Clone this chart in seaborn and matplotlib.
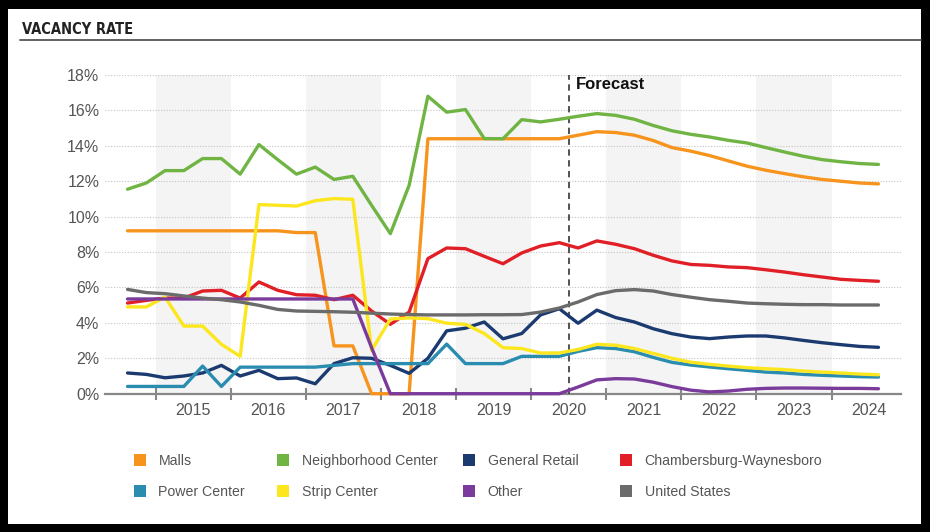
import matplotlib
matplotlib.use("Agg")
import matplotlib.pyplot as plt
from matplotlib.lines import Line2D
from matplotlib.patches import Rectangle
import numpy as np
import pandas as pd
import seaborn as sns

# Quarterly periods, 2014 Q3 through 2024 Q3
periods = [f"{y} Q{q}" for y in range(2014, 2025) for q in range(1, 5)][2:43]
forecast_start = 2020.5
years = list(range(2015, 2025))
year_labels = [str(y) for y in years]
y_ticks = [0, 2, 4, 6, 8, 10, 12, 14, 16, 18]
y_tick_labels = [f"{v}%" for v in y_ticks]

series_names = ["Malls", "Neighborhood Center", "General Retail", "Chambersburg-Waynesboro",
                "Power Center", "Strip Center", "Other", "United States"]

malls = [9.2, 9.2, 9.2, 9.2, 9.2, 9.2, 9.2, 9.2, 9.2, 9.1, 9.1, 2.7, 2.7, 0.0, 0.0, 0.0,
         14.4, 14.4, 14.4, 14.4, 14.4, 14.4, 14.4, 14.4, 14.6, 14.8, 14.75, 14.6, 14.3, 13.9,
         13.7, 13.45, 13.15, 12.85, 12.62, 12.43, 12.25, 12.1, 12.0, 11.9, 11.85]
neighborhood = [11.55, 11.9, 12.6, 12.6, 13.28, 13.28, 12.4, 14.07, 13.22, 12.4, 12.8, 12.1,
                12.28, 10.64, 9.04, 11.77, 16.8, 15.9, 16.05, 14.41, 14.4, 15.48, 15.35, 15.5,
                15.67, 15.82, 15.72, 15.5, 15.15, 14.85, 14.65, 14.5, 14.31, 14.16, 13.9, 13.65,
                13.41, 13.22, 13.1, 13.0, 12.95]
general_retail = [1.17, 1.09, 0.9, 1.0, 1.17, 1.6, 1.0, 1.32, 0.85, 0.89, 0.56, 1.7, 2.03, 2.0,
                  1.6, 1.15, 2.0, 3.55, 3.7, 4.05, 3.1, 3.4, 4.45, 4.8, 3.98, 4.72, 4.3, 4.05,
                  3.67, 3.39, 3.2, 3.11, 3.2, 3.26, 3.26, 3.15, 3.01, 2.88, 2.77, 2.67, 2.62]
chambersburg = [5.12, 5.27, 5.4, 5.4, 5.8, 5.84, 5.4, 6.31, 5.84, 5.59, 5.56, 5.31, 5.56, 4.67,
                3.92, 4.61, 7.63, 8.23, 8.19, 7.76, 7.34, 7.95, 8.34, 8.53, 8.23, 8.63, 8.44,
                8.19, 7.82, 7.5, 7.3, 7.25, 7.16, 7.12, 7.0, 6.87, 6.72, 6.59, 6.46, 6.4, 6.35]
power_center = [0.41, 0.41, 0.41, 0.41, 1.56, 0.41, 1.5, 1.5, 1.5, 1.5, 1.5, 1.6, 1.7, 1.7, 1.7,
                1.7, 1.7, 2.8, 1.7, 1.7, 1.7, 2.11, 2.11, 2.11, 2.39, 2.6, 2.55, 2.37, 2.05,
                1.77, 1.62, 1.51, 1.41, 1.32, 1.22, 1.17, 1.09, 1.04, 1.0, 0.96, 0.94]
strip_center = [4.9, 4.9, 5.46, 3.82, 3.82, 2.79, 2.11, 10.68, 10.64, 10.6, 10.9, 11.02, 10.98,
                2.45, 4.22, 4.28, 4.24, 3.98, 3.92, 3.4, 2.6, 2.55, 2.3, 2.3, 2.5, 2.79, 2.74,
                2.55, 2.28, 2.0, 1.78, 1.66, 1.56, 1.47, 1.41, 1.36, 1.28, 1.22, 1.17, 1.11, 1.07]
other = [5.35, 5.35, 5.35, 5.35, 5.35, 5.35, 5.35, 5.35, 5.35, 5.35, 5.35, 5.35, 5.35, 2.6,
         0.0, 0.0, 0.0, 0.0, 0.0, 0.0, 0.0, 0.0, 0.0, 0.0, 0.38, 0.78, 0.85, 0.83, 0.65, 0.4,
         0.2, 0.1, 0.15, 0.25, 0.3, 0.32, 0.32, 0.31, 0.3, 0.3, 0.28]
united_states = [5.89, 5.71, 5.65, 5.52, 5.4, 5.31, 5.18, 4.99, 4.76, 4.67, 4.65, 4.63, 4.6,
                 4.55, 4.5, 4.47, 4.45, 4.45, 4.45, 4.46, 4.46, 4.47, 4.61, 4.84, 5.18, 5.6,
                 5.82, 5.88, 5.8, 5.6, 5.45, 5.31, 5.22, 5.12, 5.08, 5.05, 5.03, 5.03, 5.01,
                 5.01, 5.01]

series_values = [malls, neighborhood, general_retail, chambersburg,
                 power_center, strip_center, other, united_states]
colors = ["#F7941D", "#70B444", "#1B3A6F", "#E11F27",
          "#2A8DB0", "#FCE61E", "#7A3B9B", "#6B6B6B"]

# Place each quarter at its mid-point on a fractional-year axis
def period_position(label):
    y, q = label.split(" Q")
    return int(y) + (int(q) - 0.5) / 4

xpos = [period_position(p) for p in periods]
df = pd.concat(
    [pd.DataFrame({"period": periods, "x": xpos, "series": n, "value": v})
     for n, v in zip(series_names, series_values)],
    ignore_index=True)

sns.set_theme(style="white")
plt.rcParams["font.family"] = ["Liberation Sans", "DejaVu Sans"]

W, H = 930, 532
fig = plt.figure(figsize=(W / 100, H / 100), dpi=100, facecolor="black")
# white panel inside the dark frame
fig.patches.append(Rectangle((8 / W, 8 / H), (921 - 8) / W, (523 - 8) / H,
                             transform=fig.transFigure, facecolor="white",
                             edgecolor="none", zorder=-10))

fig.text(22 / W, 1 - 29 / H, "VACANCY RATE", ha="left", va="center",
         fontsize=10.5, fontweight="bold", fontstretch="condensed", color="#222222",
         family=["DejaVu Sans"])
fig.add_artist(Line2D([20 / W, 921 / W], [1 - 40 / H, 1 - 40 / H],
                      transform=fig.transFigure, color="#555555", lw=1.3))

ax = fig.add_axes([105 / W, 1 - 393.7 / H, 796 / W, (393.7 - 75) / H])
ax.set_facecolor("white")
ax.set_zorder(1)

# alternating year bands
for y in years[::2]:
    ax.axvspan(y, y + 1, color="#F4F4F4", lw=0, zorder=0)

sns.lineplot(data=df, x="x", y="value", hue="series", hue_order=series_names,
             palette=colors, linewidth=2.4, legend=False, sort=False, ax=ax)
for line in ax.lines:
    line.set_clip_on(False)
    line.set_zorder(3)
    line.set_solid_joinstyle("round")

ax.set_xlim(2014.325, 2024.925)
ax.set_ylim(0, 18)
ax.set_xlabel("")
ax.set_ylabel("")

ax.set_yticks(y_ticks, labels=y_tick_labels)
ax.yaxis.grid(True, ls=(0, (1, 1.5)), color="#C4C4C4", lw=0.8)
ax.xaxis.grid(False)
ax.set_axisbelow(True)

ax.set_xticks([y + 0.5 for y in years], labels=year_labels)
ax.set_xticks(np.arange(2014.5, 2024.8, 0.25), minor=True)
ax.tick_params(axis="x", which="major", length=0, pad=7, labelsize=11.5, labelcolor="#555555")
ax.tick_params(axis="x", which="minor", direction="in", length=4, width=1.2, color="#888888")
ax.tick_params(axis="y", length=0, pad=4, labelsize=11.5, labelcolor="#555555")

sec = ax.secondary_xaxis("bottom")
sec.set_xticks(years)
sec.tick_params(direction="inout", length=9, width=1.5, color="#888888", labelbottom=False)
sec.spines["bottom"].set_visible(False)

for s in ["left", "right", "top"]:
    ax.spines[s].set_visible(False)
ax.spines["bottom"].set_color("#888888")
ax.spines["bottom"].set_linewidth(1.6)

ax.axvline(forecast_start, color="#444444", ls=(0, (3.5, 2.5)), lw=1.3, zorder=2.6)
ax.text(forecast_start + 0.09, 17.45, "Forecast", fontsize=12, fontweight="bold",
        color="#111111", ha="left", va="center")

# legend: four columns of two entries
handles = {n: Line2D([], [], marker="s", ls="none", markersize=8, color=c, markeredgewidth=0)
           for n, c in zip(series_names, colors)}
columns = [["Malls", "Power Center"], ["Neighborhood Center", "Strip Center"],
           ["General Retail", "Other"], ["Chambersburg-Waynesboro", "United States"]]
col_centers = [140, 283, 469, 626]
for names, cx in zip(columns, col_centers):
    leg = fig.legend([handles[n] for n in names], names, loc="center left",
                     bbox_to_anchor=((cx - 7.0) / W, 1 - 476.5 / H),
                     frameon=False, fontsize=10.2, handlelength=1.0, handletextpad=0.8,
                     labelspacing=1.15, borderpad=0, borderaxespad=0)
    for t in leg.get_texts():
        t.set_color("#555555")

fig.savefig("out.png", dpi=100, facecolor="black")
